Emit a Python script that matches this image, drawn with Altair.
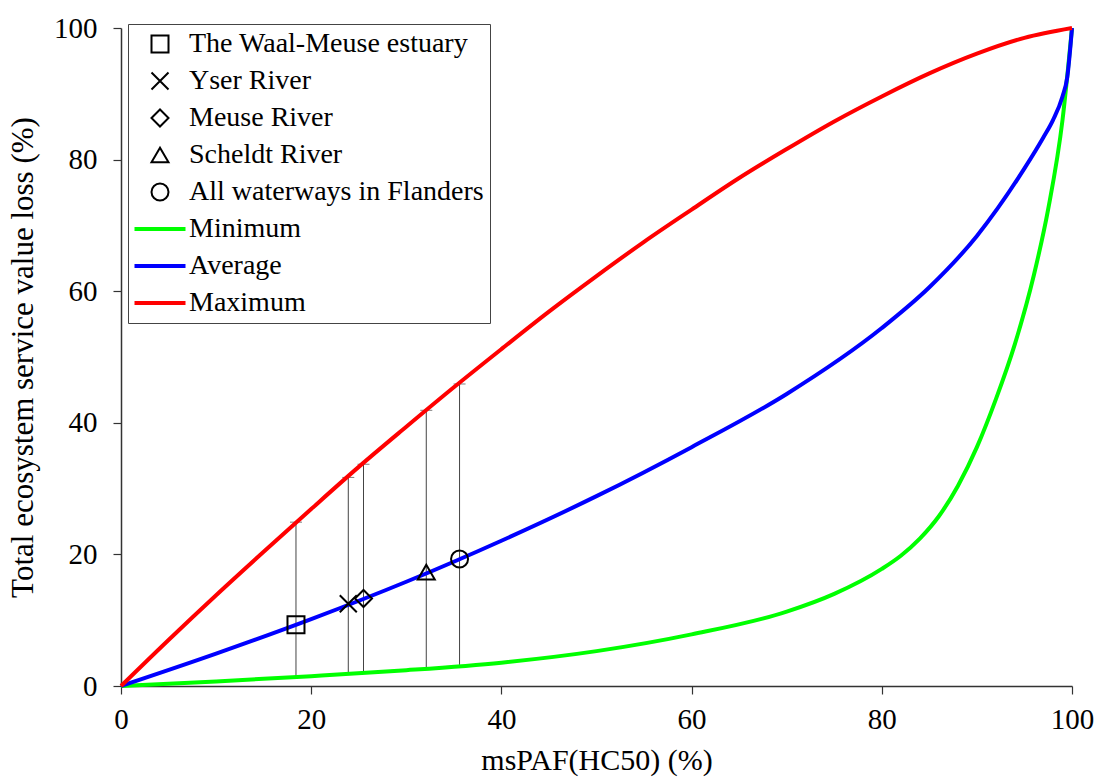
import altair as alt
import pandas as pd

# Legend entries, in display order
series_names = [
    "The Waal-Meuse estuary",
    "Yser River",
    "Meuse River",
    "Scheldt River",
    "All waterways in Flanders",
    "Minimum",
    "Average",
    "Maximum",
]
series_colors = ["black"] * 5 + ["#00ff00", "#0000ff", "#ff0000"]
# The three curve entries use a long horizontal stroke in the legend
curve_stroke = "M-3,0L3,0"
series_shapes = [
    "square",
    "M-1,-1L1,1M1,-1L-1,1",
    "diamond",
    "triangle-up",
    "circle",
    curve_stroke,
    curve_stroke,
    curve_stroke,
]
series_widths = [2] * 5 + [4] * 3

# Site estimates (average curve) with min / max range
site_x = [18.4, 23.9, 25.5, 32.1, 35.6]
site_y = [9.3, 12.5, 13.3, 17.3, 19.3]
site_lo = [1.4, 1.9, 1.9, 2.7, 3.2]
site_hi = [24.9, 31.7, 33.7, 41.9, 45.9]

# Damage curves
min_x = [0, 10, 20, 30, 40, 50, 60, 70, 75, 80, 82, 84, 86, 88, 90, 92, 94, 96,
         97.5, 99, 100]
min_y = [0, 0.7, 1.5, 2.4, 3.55, 5.3, 7.85, 11.3, 14.0, 17.8, 19.8, 22.4, 25.8,
         30.4, 36.3, 43.6, 52.0, 62.5, 72.5, 86.0, 100]

avg_x = [0, 10, 20, 30, 40, 50, 60, 70, 80, 85, 90, 95, 97, 98, 99, 99.5, 100]
avg_y = [0, 4.92, 10.16, 15.84, 22.08, 28.85, 36.3, 44.38, 54.4, 60.6, 68.4,
         78.66, 83.4, 86.0, 89.6, 92.5, 100]

max_x = [0, 5, 10, 15, 20, 25, 30, 35, 40, 45, 50, 55, 60, 65, 70, 75, 80, 85,
         90, 95, 100]
max_y = [0, 7.0, 13.8, 20.4, 26.9, 33.3, 39.4, 45.4, 51.2, 56.9, 62.3, 67.5,
         72.4, 77.2, 81.6, 85.8, 89.6, 93.1, 96.1, 98.5, 100]

sites = pd.DataFrame({
    "series": series_names[:5],
    "x": site_x,
    "y": site_y,
    "lo": site_lo,
    "hi": site_hi,
})


def curve(name, xs, ys):
    return pd.DataFrame({"series": name, "x": xs, "y": ys})


x_scale = alt.Scale(domain=[0, 100], nice=False, zero=True)
y_scale = alt.Scale(domain=[0, 100], nice=False, zero=True)
x_axis = alt.Axis(values=[0, 20, 40, 60, 80, 100], labelFlush=False,
                  labelPadding=11, titlePadding=11, titleFontSize=30)
y_axis = alt.Axis(values=[0, 20, 40, 60, 80, 100], labelFlush=False,
                  labelPadding=16, titlePadding=14, titleFontSize=31)

legend = alt.Legend(orient="none", legendX=7, legendY=-4)
color_enc = alt.Color("series:N", title=None, legend=legend,
                      scale=alt.Scale(domain=series_names, range=series_colors))
shape_enc = alt.Shape("series:N", title=None, legend=legend,
                      scale=alt.Scale(domain=series_names, range=series_shapes))
width_enc = alt.StrokeWidth("series:N", title=None, legend=legend,
                            scale=alt.Scale(type="ordinal", domain=series_names, range=series_widths))

X = alt.X("x:Q", scale=x_scale, axis=x_axis, title="msPAF(HC50) (%)")
Y = alt.Y("y:Q", scale=y_scale, axis=y_axis, title="Total ecosystem service value loss (%)")

# Vertical min-max range for each site, capped at the top
ranges = alt.Chart(sites).mark_rule(color="#444444", strokeWidth=1).encode(
    x=alt.X("x:Q", scale=x_scale), y=alt.Y("lo:Q", scale=y_scale), y2="hi:Q"
)
caps = alt.Chart(sites).mark_tick(orient="horizontal", size=12, thickness=1, color="#444444").encode(
    x=alt.X("x:Q", scale=x_scale), y=alt.Y("hi:Q", scale=y_scale)
)


def line_layer(df):
    return alt.Chart(df).mark_line(interpolate="monotone").encode(
        x=X, y=Y, color=color_enc, strokeWidth=width_enc, order="x:Q"
    )


min_line = line_layer(curve("Minimum", min_x, min_y))
avg_line = line_layer(curve("Average", avg_x, avg_y))
max_line = line_layer(curve("Maximum", max_x, max_y))

markers = alt.Chart(sites).mark_point(filled=False, opacity=1, size=289).encode(
    x=X, y=Y, color=color_enc, shape=shape_enc, strokeWidth=width_enc
)

chart = alt.layer(ranges, caps, min_line, avg_line, max_line, markers).properties(
    width=951,
    height=658,
    autosize=alt.AutoSizeParams(type="none"),
    padding={"left": 121, "top": 28, "right": 24, "bottom": 92},
).configure_view(
    strokeWidth=0
).configure_axis(
    grid=False,
    domainColor="#333333",
    domainWidth=1.5,
    tickColor="#333333",
    tickSize=8,
    tickWidth=1.2,
    labelFont="Liberation Serif",
    labelFontSize=29,
    labelColor="black",
    titleFont="Liberation Serif",
    titleFontWeight="normal",
    titleColor="black",
).configure_legend(
    labelFont="Liberation Serif",
    labelFontSize=28,
    labelColor="black",
    labelLimit=0,
    strokeColor="#444444",
    fillColor="white",
    padding=6,
    rowPadding=9,
    symbolSize=289,
    symbolOffset=12,
    labelOffset=15,
    symbolStrokeColor="black",
)

chart.save("out.html", embed_options={"renderer": "svg", "actions": False})
